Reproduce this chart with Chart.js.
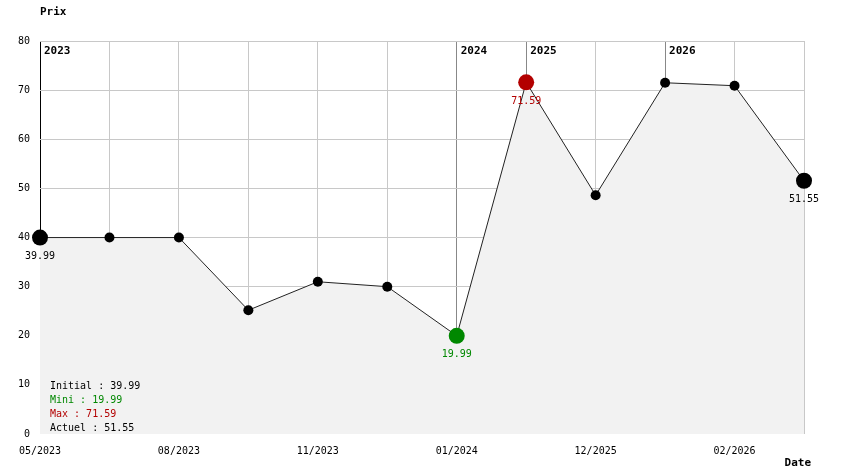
<!DOCTYPE html>
<html>
<head>
<meta charset="utf-8">
<script src="https://cdn.jsdelivr.net/npm/chart.js@4/dist/chart.umd.min.js"></script>
<style>
  html, body { margin: 0; padding: 0; background: #fff; }
  canvas { display: block; }
</style>
</head>
<body>
<canvas id="chart" width="844" height="474"></canvas>
<script>
// data
const categories = ["05/2023", "06/2023", "08/2023", "09/2023", "11/2023", "12/2023",
                    "01/2024", "10/2025", "12/2025", "01/2026", "02/2026", "03/2026"];
const prices = [39.99, 39.99, 39.99, 25.2, 30.99, 29.99, 19.99, 71.59, 48.6, 71.5, 70.9, 51.55];
const yTicks = [0, 10, 20, 30, 40, 50, 60, 70, 80];

const MONO = "'DejaVu Sans Mono', monospace";
const GREEN = "#008800";
const RED = "#b30000";

const first = 0;
const last = prices.length - 1;
const minIdx = prices.indexOf(Math.min(...prices));
const maxIdx = prices.indexOf(Math.max(...prices));

const yearOf = (c) => c.split("/")[1];
const yearStarts = categories
  .map((c, i) => (i === 0 || yearOf(c) !== yearOf(categories[i - 1]) ? i : -1))
  .filter((i) => i >= 0);

function pointColor(i) {
  if (i === minIdx) return GREEN;
  if (i === maxIdx) return RED;
  return "#000";
}
const special = [first, last, minIdx, maxIdx];

const annotate = {
  id: "annotate",
  afterDatasetsDraw(chart) {
    const ctx = chart.ctx;
    const area = chart.chartArea;
    const meta = chart.getDatasetMeta(0);
    ctx.save();

    // axis titles
    ctx.fillStyle = "#000";
    ctx.font = "bold 11px " + MONO;
    ctx.textBaseline = "middle";
    ctx.textAlign = "left";
    ctx.fillText("Prix", area.left, 12);
    ctx.textAlign = "right";
    ctx.fillText("Date", 811, 463);

    // year markers
    ctx.textAlign = "left";
    yearStarts.forEach((i) => {
      ctx.fillText(yearOf(categories[i]), meta.data[i].x + 4, 51);
    });

    // values under the notable points
    ctx.font = "10px " + MONO;
    ctx.textAlign = "center";
    [first, minIdx, maxIdx, last].forEach((i) => {
      const p = meta.data[i];
      ctx.fillStyle = i === minIdx ? GREEN : i === maxIdx ? RED : "#000";
      ctx.fillText(prices[i].toFixed(2), p.x, p.y + 19);
    });

    // summary box
    ctx.textAlign = "left";
    const rows = [
      ["Initial : " + prices[first].toFixed(2), "#000"],
      ["Mini : " + prices[minIdx].toFixed(2), GREEN],
      ["Max : " + prices[maxIdx].toFixed(2), RED],
      ["Actuel : " + prices[last].toFixed(2), "#000"],
    ];
    rows.forEach((r, k) => {
      ctx.fillStyle = r[1];
      ctx.fillText(r[0], area.left + 10, 386 + k * 14);
    });
    ctx.restore();
  },
};

new Chart(document.getElementById("chart"), {
  type: "line",
  data: {
    labels: categories,
    datasets: [
      {
        data: prices,
        borderColor: "#222",
        borderWidth: 1,
        backgroundColor: "#f2f2f2",
        fill: "origin",
        tension: 0,
        pointRadius: prices.map((v, i) => (special.includes(i) ? 8 : 5)),
        pointBackgroundColor: prices.map((v, i) => pointColor(i)),
        pointBorderWidth: 0,
        pointBorderColor: prices.map((v, i) => pointColor(i)),
      },
    ],
  },
  options: {
    responsive: false,
    animation: false,
    devicePixelRatio: 1,
    layout: { padding: { top: 41, right: 40, left: 0, bottom: 0 } },
    plugins: {
      legend: { display: false },
      tooltip: { enabled: false },
      title: { display: false },
    },
    scales: {
      x: {
        offset: false,
        border: { display: false },
        grid: {
          drawTicks: false,
          color: (c) => (c.index === 0 ? "#000" : yearStarts.includes(c.index) ? "#888" : "#c8c8c8"),
        },
        ticks: {
          autoSkip: false,
          maxRotation: 0,
          padding: 11,
          color: "#000",
          font: { family: MONO, size: 10 },
          callback: (v, i) => (i % 2 === 0 ? categories[i] : ""),
        },
        afterFit: (axis) => { axis.height = 40; },
      },
      y: {
        min: 0,
        max: 80,
        border: { display: false },
        grid: {
          drawTicks: false,
          color: (c) => (c.tick && c.tick.value === 0 ? "rgba(0,0,0,0)" : "#c8c8c8"),
        },
        afterBuildTicks: (axis) => { axis.ticks = yTicks.map((v) => ({ value: v })); },
        ticks: {
          padding: 10,
          color: "#000",
          font: { family: MONO, size: 10 },
        },
        afterFit: (axis) => { axis.width = 40; },
      },
    },
  },
  plugins: [annotate],
});
</script>
</body>
</html>
